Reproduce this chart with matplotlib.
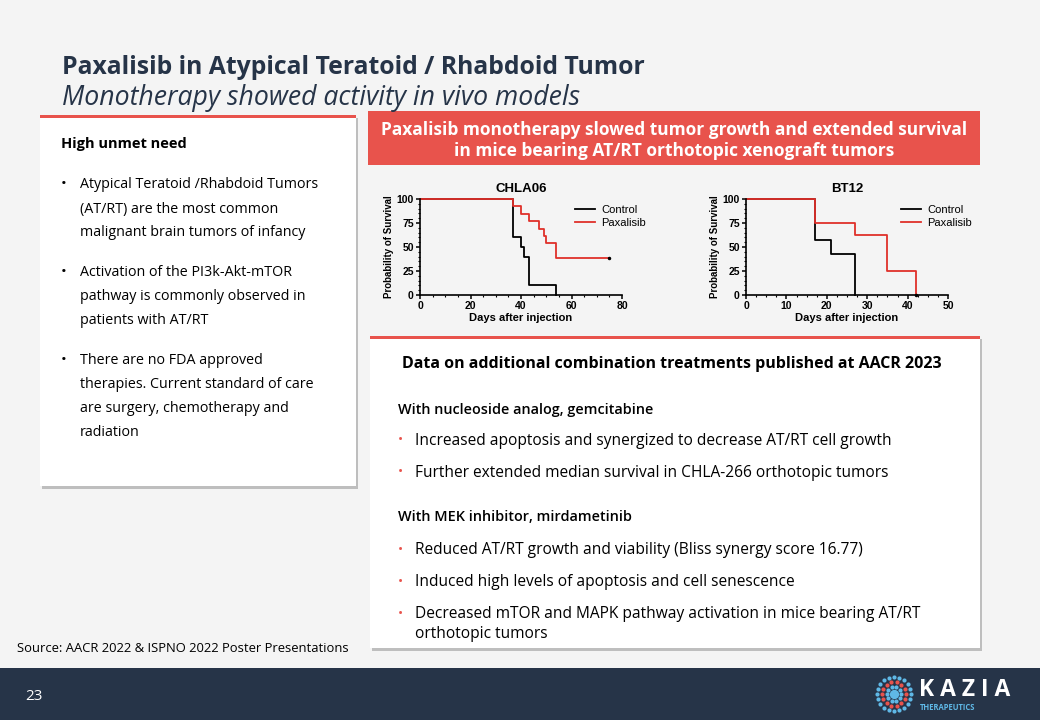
import numpy as np
import matplotlib
matplotlib.use("Agg")
import matplotlib.pyplot as plt
from matplotlib.patches import Rectangle

plt.rcParams['font.family'] = ['Open Sans', 'DejaVu Sans']

# Kaplan-Meier data
chla06_ctrl_t = [0, 37, 40, 41, 43, 54]
chla06_ctrl_s = [100, 60, 50, 40, 10, 0]
chla06_pax_t = [0, 37, 40, 43, 47, 49, 50, 54, 75]
chla06_pax_s = [100, 92.3, 84.6, 76.9, 69.2, 61.5, 53.8, 38.5, 38.5]

bt12_ctrl_t = [0, 17, 21, 27]
bt12_ctrl_s = [100, 57.1, 42.9, 0]
bt12_pax_t = [0, 17, 27, 35, 42]
bt12_pax_s = [100, 75, 62.5, 25, 0]

navy = '#263448'
red = '#e8534c'

fig = plt.figure(figsize=(10.4, 7.2), dpi=100)
fig.patch.set_facecolor('#f4f4f4')

# overlay in pixel coordinates for the slide decoration
bg = fig.add_axes([0, 0, 1, 1])
bg.set_xlim(0, 1040)
bg.set_ylim(720, 0)
bg.axis('off')

def box(x0, y0, x1, y1):
    bg.add_patch(Rectangle((x0 + 2, y0 + 3), x1 - x0, y1 - y0, color='#9a9a9a', alpha=0.6, lw=0))
    bg.add_patch(Rectangle((x0, y0), x1 - x0, y1 - y0, color='white', lw=0))
    bg.add_patch(Rectangle((x0, y0), x1 - x0, 3, color=red, lw=0))

bg.text(62, 68, 'Paxalisib in Atypical Teratoid / Rhabdoid Tumor', fontsize=17.8, fontweight='bold',
        color=navy, va='center')
bg.text(62, 98, 'Monotherapy showed activity in vivo models', fontsize=19.2, fontstyle='italic',
        color=navy, va='center')

# left box
box(40, 115, 356, 486)
bg.text(61, 144, 'High unmet need', fontsize=10.5, fontweight='bold', va='center')
left_lines = [
    (185, 'Atypical Teratoid /Rhabdoid Tumors', True),
    (209, '(AT/RT) are the most common', False),
    (233, 'malignant brain tumors of infancy', False),
    (273, 'Activation of the PI3k-Akt-mTOR', True),
    (297, 'pathway is commonly observed in', False),
    (321, 'patients with AT/RT', False),
    (360, 'There are no FDA approved', True),
    (384, 'therapies. Current standard of care', False),
    (408, 'are surgery, chemotherapy and', False),
    (432, 'radiation', False),
]
for y, s, b in left_lines:
    if b:
        bg.text(61, y, '•', fontsize=11, va='center')
    bg.text(80, y, s, fontsize=10.3, va='center')

# red banner
bg.add_patch(Rectangle((368, 111), 612, 54, color=red, lw=0))
bg.text(674, 130, 'Paxalisib monotherapy slowed tumor growth and extended survival',
        fontsize=12.5, fontweight='bold', color='white', ha='center', va='center')
bg.text(674, 151, 'in mice bearing AT/RT orthotopic xenograft tumors',
        fontsize=12.5, fontweight='bold', color='white', ha='center', va='center')

# bottom box
box(370, 336, 980, 648)
bg.text(672, 364, 'Data on additional combination treatments published at AACR 2023',
        fontsize=11.5, fontweight='bold', ha='center', va='center')
bg.text(398, 410, 'With nucleoside analog, gemcitabine', fontsize=10.4, fontweight='semibold', va='center')
bg.text(398, 517, 'With MEK inhibitor, mirdametinib', fontsize=10.4, fontweight='semibold', va='center')
bottom_lines = [
    (441, 'Increased apoptosis and synergized to decrease AT/RT cell growth', True),
    (473, 'Further extended median survival in CHLA-266 orthotopic tumors', True),
    (550, 'Reduced AT/RT growth and viability (Bliss synergy score 16.77)', True),
    (582, 'Induced high levels of apoptosis and cell senescence', True),
    (614, 'Decreased mTOR and MAPK pathway activation in mice bearing AT/RT', True),
    (634, 'orthotopic tumors', False),
]
for y, s, b in bottom_lines:
    if b:
        bg.text(398, y, '•', fontsize=10, color=red, va='center')
    bg.text(415, y, s, fontsize=11.2, va='center')

bg.text(17, 649, 'Source: AACR 2022 & ISPNO 2022 Poster Presentations', fontsize=9.4, va='center')

# footer
bg.add_patch(Rectangle((0, 668), 1040, 52, color=navy, lw=0))
bg.text(25, 696, '23', fontsize=11, color='white', va='center')

# logo
cx, cy = 894, 694
for r, n, c in [(17, 20, '#5fb8e6'), (12, 14, '#e8534c'), (7, 10, '#5fb8e6')]:
    a = np.linspace(0, 2 * np.pi, n, endpoint=False)
    bg.scatter(cx + r * np.cos(a), cy + r * np.sin(a), s=9, color=c, lw=0)
bg.scatter([cx], [cy], s=45, color='#5fb8e6', lw=0)
bg.text(919, 690, 'K A Z I A', fontsize=16.5, fontweight='bold', color='white', va='center')
bg.text(920, 707, 'THERAPEUTICS', fontsize=5.5, fontweight='bold', color='#5fb8e6', va='center')


def km(ax, title, ct, cs, pt, ps, xmax, xstep):
    ax.step(ct, cs, where='post', color='black', lw=1.3, clip_on=False, label='Control')
    ax.step(pt, ps, where='post', color='#e0302a', lw=1.3, clip_on=False, label='Paxalisib')
    ax.plot(pt[-1], ps[-1], marker='.', color='black', ms=3, clip_on=False)
    ax.set_xlim(0, xmax)
    ax.set_ylim(0, 100)
    ax.set_xticks(np.arange(0, xmax + 1, xstep))
    ax.set_xticks(np.arange(0, xmax + 1, xstep / 4), minor=True)
    ax.set_yticks([0, 25, 50, 75, 100])
    ax.set_yticks(np.arange(0, 101, 5), minor=True)
    ax.set_facecolor('none')
    for s in ['top', 'right']:
        ax.spines[s].set_visible(False)
    for s in ['left', 'bottom']:
        ax.spines[s].set_linewidth(1.2)
    ax.tick_params(which='major', length=3, width=1.1, labelsize=7.5, pad=1.5)
    ax.tick_params(which='minor', length=1.5, width=0.8)
    for lab in ax.get_xticklabels() + ax.get_yticklabels():
        lab.set_fontweight('bold')
        lab.set_family('Liberation Sans')
    ax.set_title(title, fontsize=9.5, fontweight='bold', family='Liberation Sans', pad=5)
    ax.set_xlabel('Days after injection', fontsize=8, fontweight='bold', family='Liberation Sans', labelpad=1)
    ax.set_ylabel('Probability of Survival', fontsize=7, fontweight='bold',
                  family=['Liberation Sans Narrow', 'Liberation Sans'], labelpad=2)
    ax.legend(loc='upper right', bbox_to_anchor=(1.17, 1.04), frameon=False,
              handlelength=1.8, handletextpad=0.6, labelspacing=0.25,
              prop={'family': 'Liberation Sans', 'size': 8})
    return ax


ax1 = fig.add_axes([420 / 1040, (720 - 295) / 720, 202 / 1040, 96 / 720])
km(ax1, 'CHLA06', chla06_ctrl_t, chla06_ctrl_s, chla06_pax_t, chla06_pax_s, 80, 20)
ax2 = fig.add_axes([746 / 1040, (720 - 295) / 720, 202 / 1040, 96 / 720])
km(ax2, 'BT12', bt12_ctrl_t, bt12_ctrl_s, bt12_pax_t, bt12_pax_s, 50, 10)

fig.savefig('out.png', dpi=100, facecolor=fig.get_facecolor())
